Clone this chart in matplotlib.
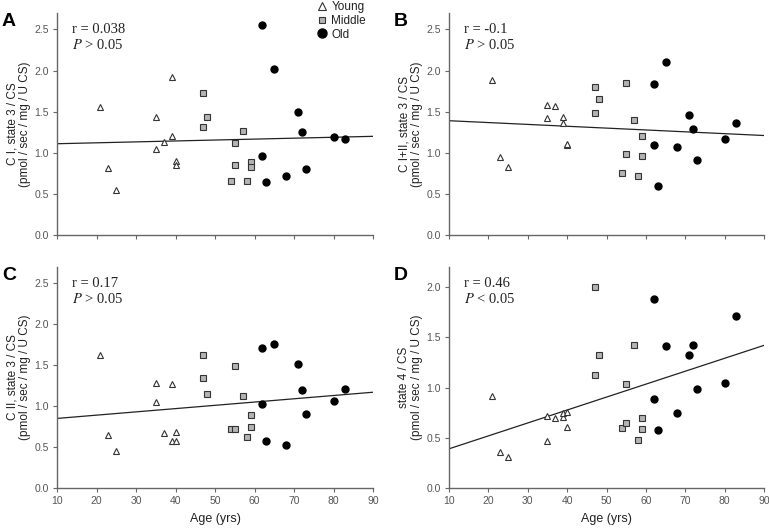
#!/usr/bin/env python3

# Import relevant packages
import matplotlib.pyplot as plt


##########################################################################
# DATA
##########################################################################

age_young = [21, 23, 25, 35, 35, 37, 39, 39, 40, 40]
age_middle = [47, 47, 48, 54, 55, 55, 57, 58, 59, 59]
age_old = [62, 62, 63, 65, 68, 71, 72, 73, 80, 83]

# Panel A: C I, state 3 / CS
a_young = [1.56, 0.82, 0.55, 1.44, 1.04, 1.13, 1.92, 1.21, 0.90, 0.85]
a_middle = [1.73, 1.31, 1.43, 0.66, 1.12, 0.85, 1.27, 0.66, 0.89, 0.83]
a_old = [2.55, 0.96, 0.65, 2.02, 0.72, 1.50, 1.25, 0.80, 1.19, 1.17]

# Panel B: C I+II, state 3 / CS
b_young = [1.88, 0.95, 0.83, 1.58, 1.42, 1.57, 1.43, 1.36, 1.09, 1.11]
b_middle = [1.80, 1.48, 1.66, 0.76, 1.85, 0.98, 1.40, 0.72, 1.20, 0.96]
b_old = [1.84, 1.09, 0.59, 2.10, 1.07, 1.46, 1.29, 0.91, 1.17, 1.36]

# Panel C: C II, state 3 / CS
c_young = [1.63, 0.65, 0.45, 1.28, 1.05, 0.67, 1.27, 0.58, 0.68, 0.58]
c_middle = [1.62, 1.34, 1.15, 0.72, 1.49, 0.72, 1.13, 0.62, 0.89, 0.75]
c_old = [1.71, 1.03, 0.57, 1.76, 0.52, 1.52, 1.20, 0.90, 1.06, 1.21]

# Panel D: state 4 / CS
d_young = [0.92, 0.36, 0.31, 0.72, 0.47, 0.70, 0.71, 0.745, 0.76, 0.61]
d_middle = [2.00, 1.12, 1.32, 0.60, 1.04, 0.65, 1.42, 0.48, 0.70, 0.59]
d_old = [1.88, 0.89, 0.58, 1.41, 0.745, 1.32, 1.42, 0.99, 1.05, 1.71]

# Regression line end values at age 10 and 90
line_x = [10, 90]
a_line = [1.11, 1.20]
b_line = [1.39, 1.21]
c_line = [0.85, 1.17]
d_line = [0.39, 1.42]

panels = [
    ("A", a_young, a_middle, a_old, a_line, "r = 0.038", ">",
     "C I, state 3 / CS\n(pmol / sec / mg / U CS)", 2.7),
    ("B", b_young, b_middle, b_old, b_line, "r = -0.1", ">",
     "C I+II, state 3 / CS\n(pmol / sec / mg / U CS)", 2.7),
    ("C", c_young, c_middle, c_old, c_line, "r = 0.17", ">",
     "C II, state 3 / CS\n(pmol / sec / mg / U CS)", 2.7),
    ("D", d_young, d_middle, d_old, d_line, "r = 0.46", "<",
     "state 4 / CS\n(pmol / sec / mg / U CS)", 2.2),
]

# axes boxes in pixels: left, bottom(from top), right, top(from top)
W, H = 769, 528
boxes = [(57, 235, 373, 13), (449, 235, 764, 13),
         (57, 488, 373, 267), (449, 488, 764, 267)]

AXC = "#666666"
SANS = ["Liberation Sans", "DejaVu Sans"]
SERIF = ["Liberation Serif", "DejaVu Serif"]


##########################################################################
# GRAPHING
##########################################################################

fig = plt.figure(figsize=(W / 100, H / 100), dpi=100)

for i, (letter, yy, ym, yo, line, rtxt, sign, ylab, ymax) in enumerate(panels):
    l, b, r, t = boxes[i]
    ax = fig.add_axes([l / W, (H - b) / H, (r - l) / W, (b - t) / H])

    ax.plot(age_young, yy, "^", ms=4.2, mfc="white", mec="#333333", mew=0.8,
            label="Young", zorder=3)
    ax.plot(age_middle, ym, "s", ms=3.8, mfc="#b4b4b4", mec="#333333",
            mew=0.8, label="Middle", zorder=3)
    ax.plot(age_old, yo, "o", ms=5, mfc="black", mec="black",
            label="Old", zorder=3)
    ax.plot(line_x, line, "-", color="#222222", lw=0.9, zorder=2)

    ax.set_xlim(10, 90)
    ax.set_ylim(0, ymax)
    ax.set_xticks(range(10, 91, 10))
    ax.set_yticks([v / 2 for v in range(int(ymax * 2) + 1)])
    ax.yaxis.set_major_formatter(plt.FormatStrFormatter("%.1f"))

    for s in ["top", "right"]:
        ax.spines[s].set_visible(False)
    for s in ["left", "bottom"]:
        ax.spines[s].set_color(AXC)
        ax.spines[s].set_linewidth(1.0)
    ax.tick_params(direction="out", length=3, color=AXC, labelcolor="#555555",
                   labelsize=7.5, pad=3)
    for lab in ax.get_xticklabels() + ax.get_yticklabels():
        lab.set_family(SANS)

    if i < 2:
        ax.tick_params(axis="x", labelbottom=False)
    else:
        ax.set_xlabel("Age (yrs)", fontsize=9, color="#222222", labelpad=5,
                      family=SANS)

    ax.set_ylabel(ylab, fontsize=8.5, color="#222222", labelpad=2,
                  linespacing=1.1, family=SANS)

    # stats text
    ax.text(0.048, 0.925, rtxt, transform=ax.transAxes, family=SERIF,
            fontsize=10.5, color="#222222", va="center")
    ax.text(0.048, 0.855, "$P$ " + sign + " 0.05", transform=ax.transAxes,
            family=SERIF, fontsize=10.5, color="#222222",
            va="center", math_fontfamily="stix")

    # panel letter
    fig.text((l - 55) / W, 1 - (t + 8) / H, letter, fontsize=14,
             fontweight="bold", va="center", ha="left", family=SANS)

    if i == 0:
        ax.legend(loc="upper left", bbox_to_anchor=(316 / W, 1 - 1 / H),
                  bbox_transform=fig.transFigure, frameon=False,
                  prop={"family": SANS, "size": 8.5}, handletextpad=0.3,
                  labelspacing=0.15, borderaxespad=0.0, borderpad=0.0,
                  handlelength=1.0, markerscale=1.3, labelcolor="#222222")

fig.savefig("out.png", dpi=100)
